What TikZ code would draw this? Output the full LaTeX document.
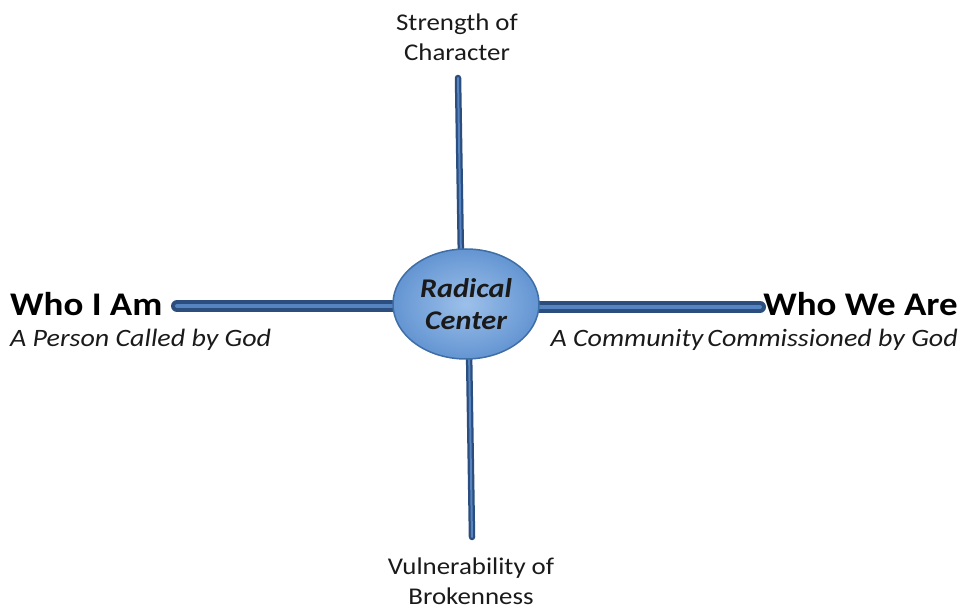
\documentclass[tikz,border=0pt]{standalone}
\usepackage{fontspec}
\setmainfont{Carlito}[FakeStretch=1.12]
\usetikzlibrary{shapes.geometric}
\definecolor{bardark}{HTML}{2C4E7E}
\definecolor{barlight}{HTML}{5584C0}
\definecolor{ellfill}{HTML}{6495D2}
\definecolor{ellin}{HTML}{9CC0EA}
\definecolor{elldraw}{HTML}{3F6EA6}
\definecolor{txt}{HTML}{1A1A1A}
\tikzset{
  bar/.style={line width=12pt, draw=bardark, line cap=round},
  barhi/.style={line width=4pt, draw=barlight, line cap=round},
  vbar/.style={line width=6.5pt, draw=bardark, line cap=round},
  vbarhi/.style={line width=2pt, draw=barlight, line cap=round},
  small/.style={font=\fontsize{24}{30}\selectfont, text=txt, align=center, inner sep=0pt},
  big/.style={font=\fontsize{33}{38}\selectfont\bfseries, text=black, inner sep=0pt},
  sub/.style={font=\fontsize{25}{30}\selectfont\itshape, text=txt, inner sep=0pt},
}
\begin{document}
\begin{tikzpicture}[x=1pt,y=-1pt]
\useasboundingbox (0,0) rectangle (961,609);
\coordinate (topend) at (458,78);
\coordinate (botend) at (472,537);
\coordinate (leftend) at (177,306);
\coordinate (rightend) at (760,307);
% bars
\draw[vbar] (topend) -- (461,260);
\draw[vbarhi] (topend) -- (461,260);
\draw[vbar] (469,350) -- (botend);
\draw[vbarhi] (469,350) -- (botend);
\draw[bar] (leftend) -- (410,306);
\draw[barhi] (leftend) -- (410,306);
\draw[bar] (520,307) -- (rightend);
\draw[barhi] (520,307) -- (rightend);
% center
\node[ellipse, minimum width=146pt, minimum height=110pt, draw=elldraw, line width=1.5pt,
      inner color=ellin, outer color=ellfill, align=center,
      font=\fontsize{27}{32}\selectfont\bfseries\itshape, text=txt] (center) at (466,304) {Radical\\Center};
% labels
\node[small, anchor=center] (strength) at (457,37) {Strength of\\Character};
\node[small, anchor=center] (vuln) at (471,581) {Vulnerability of\\Brokenness};
\node[big, anchor=west] (whoi) at (10,304) {Who I Am};
\node[sub, anchor=west] (person) at (10,340) {A Person Called by God};
\node[big, anchor=east] (whowe) at (958,304) {Who We Are};
\node[sub, anchor=east] (comm) at (958,340) {A Community\hspace{4pt}Commissioned by God};
\end{tikzpicture}
\end{document}
